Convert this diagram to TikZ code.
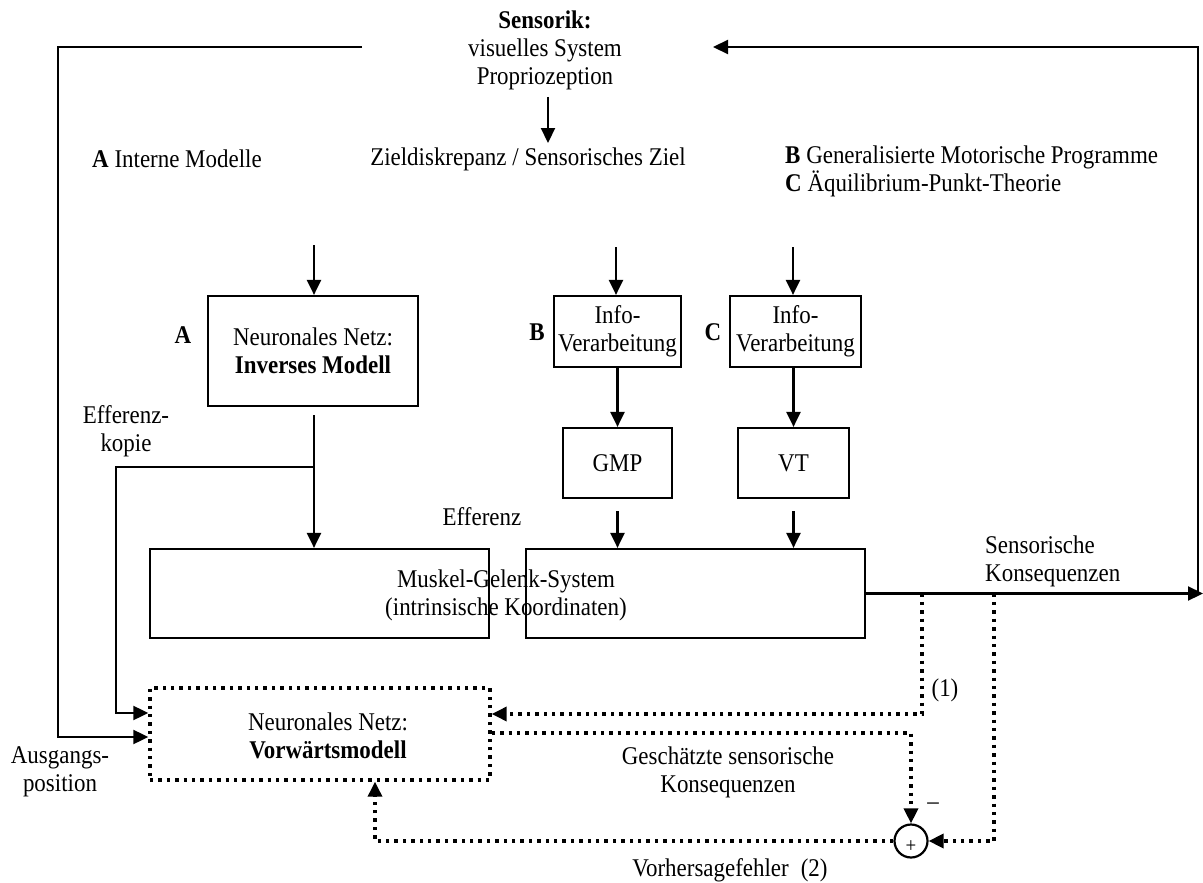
\documentclass[tikz,border=0pt]{standalone}
\usepackage{fontspec}
\setmainfont{Liberation Serif}[FakeStretch=0.9]
\usetikzlibrary{arrows.meta,calc}
\begin{document}
\begin{tikzpicture}[x=1pt,y=-1pt,
  txt/.style={font=\fontsize{25.5}{28}\selectfont, inner sep=0pt, align=center},
  box/.style={draw, line width=2.2pt, inner sep=0pt, align=center, font=\fontsize{25.5}{28}\selectfont},
  dotbox/.style={box, line width=3.4pt, dash pattern=on 3.4pt off 5pt},
  ln/.style={line width=2.2pt},
  dl/.style={line width=3.4pt, dash pattern=on 3.4pt off 5pt},
  arr/.style={-{Triangle[length=15pt,width=14pt]}},
]
\useasboundingbox (0,0) rectangle (1203,883);

% headings and labels
\node[txt] (sens) at (545,50) {\textbf{Sensorik:}\\visuelles System\\Propriozeption};
\node[txt] (ziel) at (528,159) {Zieldiskrepanz / Sensorisches Ziel};
\node[txt, anchor=west] (intA) at (92,159) {\textbf{A} Interne Modelle};
\node[txt, anchor=west, align=left] (theo) at (785,171) {\textbf{B} Generalisierte Motorische Programme\\\textbf{C} Äquilibrium-Punkt-Theorie};

% processing boxes
\node[box, minimum width=210pt, minimum height=110pt] (inv) at (313,351) {Neuronales Netz:\\\textbf{Inverses Modell}};
\node[box, minimum width=127pt, minimum height=71pt] (infB) at (617.5,331.5) {Info-\\Verarbeitung};
\node[box, minimum width=131pt, minimum height=71pt] (infC) at (795.5,331.5) {Info-\\Verarbeitung};
\node[box, minimum width=109pt, minimum height=70pt] (gmp) at (617.5,463) {GMP};
\node[box, minimum width=111pt, minimum height=70pt] (vt) at (793.5,463) {VT};
\node[box, minimum width=339pt, minimum height=89pt] (muskL) at (319.5,593.5) {};
\node[box, minimum width=339pt, minimum height=89pt] (muskR) at (695.5,593.5) {};
\node[txt] (muskT) at (506,595) {Muskel-Gelenk-System\\(intrinsische Koordinaten)};
\node[dotbox, minimum width=340pt, minimum height=92pt] (fwd) at (320,734) {};
\node[txt] (fwdT) at (328,736) {Neuronales Netz:\\\textbf{Vorwärtsmodell}};
\node[draw, circle, line width=2.2pt, minimum size=33pt, inner sep=0pt] (sum) at (911,841) {};
\node[font=\fontsize{21}{21}\selectfont, inner sep=0pt] (plus) at (911,847) {+};

\node[txt] (lA) at (183,335) {\textbf{A}};
\node[txt] (lB) at (537,332) {\textbf{B}};
\node[txt] (lC) at (713,332) {\textbf{C}};
\node[txt] (effk) at (126,431) {Efferenz-\\kopie};
\node[txt] (eff) at (482,517) {Efferenz};
\node[txt, anchor=west, align=left] (skon) at (985,561) {Sensorische\\Konsequenzen};
\node[txt] (one) at (945,690) {(1)};
\node[txt] (gsk) at (728,772) {Geschätzte sensorische\\Konsequenzen};
\node[txt] (minus) at (933,806) {\textendash};
\node[txt] (vf) at (730,870) {Vorhersagefehler\hspace{12pt}(2)};
\node[txt] (ausg) at (60,772) {Ausgangs-\\position};

% connector end points
\coordinate (sL) at (362,47);
\coordinate (sR) at (713,47);
\coordinate (zTop) at (548,97);
\coordinate (zBot) at (548,143);
\coordinate (cA) at (314,245);
\coordinate (cB) at (616,247);
\coordinate (cC) at (793,247);
\coordinate (invOut) at (314,415);
\coordinate (split) at (314,467);
\coordinate (outR) at (1203,593.5);
\coordinate (d1) at (922,593.5);
\coordinate (d2) at (994,593.5);

% solid connectors
\draw[ln,arr] (zTop) -- (zBot);
\draw[ln,arr] (sL) -- (58,47) |- ($(fwd.west)+(0,3)$);
\draw[ln,arr] (cA) -- (cA |- inv.north);
\draw[ln,arr] (invOut) -- (invOut |- muskL.north);
\draw[ln,arr] (split) -- (116,467) |- ($(fwd.west)+(0,-21)$);
\draw[ln,arr] (cB) -- (cB |- infB.north);
\draw[ln,arr] (infB.south) -- (gmp.north);
\draw[ln,arr] ($(gmp.south)+(0,12)$) -- (gmp.south |- muskR.north);
\draw[ln,arr] (cC) -- (cC |- infC.north);
\draw[ln,arr] (vt.north |- infC.south) -- (vt.north);
\draw[ln,arr] ($(vt.south)+(0,12)$) -- (vt.south |- muskR.north);
\draw[ln,arr] (muskR.east) -- (outR);
\draw[ln,arr] (1198,593.5) -- (1198,47) -- (sR);

% dotted feedback paths
\draw[dl,arr] (d1) |- ($(fwd.east)+(0,-20)$);
\draw[dl,arr] ($(fwd.east)+(0,-1)$) -| (sum.north);
\draw[dl,arr] (d2) |- (sum.east);
\draw[dl,arr] (sum.west) -| ($(fwd.south)+(55,0)$);
\end{tikzpicture}
\end{document}
